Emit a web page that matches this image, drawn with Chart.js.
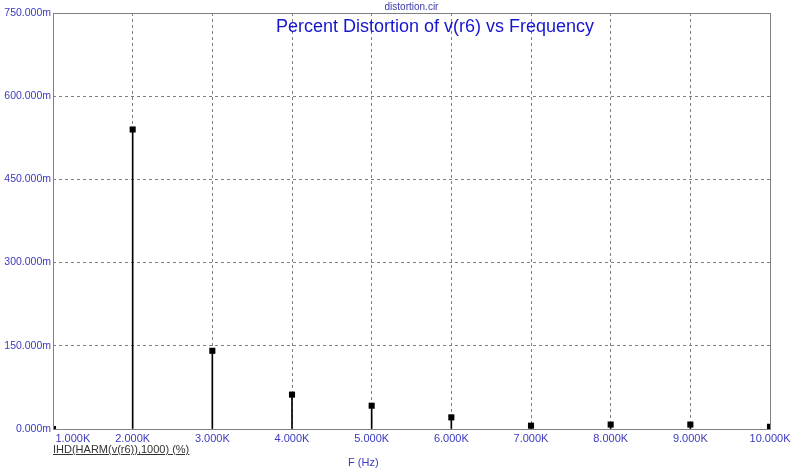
<!DOCTYPE html>
<html>
<head>
<meta charset="utf-8">
<script src="https://cdn.jsdelivr.net/npm/chart.js@4/dist/chart.umd.min.js"></script>
<style>
  html,body{margin:0;padding:0;background:#fff;}
  #wrap{position:relative;width:797px;height:470px;font-family:Arial,"Liberation Sans",sans-serif;}
  #wrap canvas{position:absolute;left:0;top:0;}
  .lbl{position:absolute;white-space:nowrap;line-height:1;}
  #file{left:0;width:823px;top:2px;text-align:center;font-size:10px;color:#3a3aa8;}
  #title{left:276px;top:17px;font-size:18px;color:#1515d0;}
  #legend{left:53px;top:444px;font-size:11px;color:#333;text-decoration:underline;}
  #xlab{left:348px;top:457px;font-size:11px;color:#3a3ac0;}
</style>
</head>
<body>
<div id="wrap">
  <canvas id="c" width="797" height="470"></canvas>
  <div class="lbl" id="file">distortion.cir</div>
  <div class="lbl" id="title">Percent Distortion of v(r6) vs Frequency</div>
  <div class="lbl" id="legend">IHD(HARM(v(r6)),1000) (%)</div>
  <div class="lbl" id="xlab">F (Hz)</div>
</div>
<script>
// === Data ===
const freqs = [1000,2000,3000,4000,5000,6000,7000,8000,9000,10000]; // Hz
const distortion = [0,540,141,62,42,21,6,8,8,4]; // m%
const yTicks = [0,150,300,450,600,750];

const pts = freqs.map((f,i)=>({x:f,y:distortion[i]}));
const tickColor = '#3a3ac0';

new Chart(document.getElementById('c'), {
  data:{
    datasets:[
      { type:'scatter', data:pts, pointStyle:'rect', pointRadius:4.3, pointHoverRadius:4.3,
        backgroundColor:'#000', borderColor:'#000', borderWidth:0, clip:0, order:0 },
      { type:'bar', data:pts, backgroundColor:'#000', barThickness:1, borderWidth:0, clip:0, order:1 }
    ]
  },
  options:{
    responsive:false, animation:false, events:[],
    layout:{padding:{left:0,right:27,top:13,bottom:0}},
    plugins:{legend:{display:false}, tooltip:{enabled:false}},
    scales:{
      x:{ type:'linear', min:1000, max:10000, offset:false,
        grid:{color:'#808080', lineWidth:1, drawTicks:false, tickLength:0, offset:false},
        border:{display:false, color:'#808080', width:1, dash:[3,3]},
        ticks:{ stepSize:1000, color:tickColor, font:{family:'Arial', size:11}, padding:3, maxRotation:0, autoSkip:false,
          callback:(v)=> v===1000 ? '             '+(v/1000).toFixed(3)+'K' : (v/1000).toFixed(3)+'K' },
        afterFit:(s)=>{ s.height = 41; }
      },
      y:{ min:0, max:750,
        grid:{color:'#808080', lineWidth:1, drawTicks:false},
        border:{display:false, color:'#808080', width:1, dash:[3,3]},
        ticks:{ stepSize:150, color:tickColor, font:{family:'Arial', size:10.5}, padding:2,
          callback:(v)=> yTicks.includes(v) ? v.toFixed(3)+'m' : '' },
        afterFit:(s)=>{ s.width = 53; }
      }
    }
  },
  plugins:[{
    id:'frame',
    beforeDraw(chart){
      const {ctx} = chart; ctx.save(); ctx.fillStyle='#fff'; ctx.fillRect(0,0,chart.width,chart.height); ctx.restore();
    },
    afterDraw(chart){
      // solid plot border
      const {ctx, chartArea:a} = chart;
      ctx.save(); ctx.strokeStyle='#808080'; ctx.lineWidth=1;
      ctx.strokeRect(Math.round(a.left)+0.5, Math.round(a.top)+0.5, Math.round(a.right-a.left), Math.round(a.bottom-a.top));
      ctx.restore();
    }
  }]
});
</script>
</body>
</html>
